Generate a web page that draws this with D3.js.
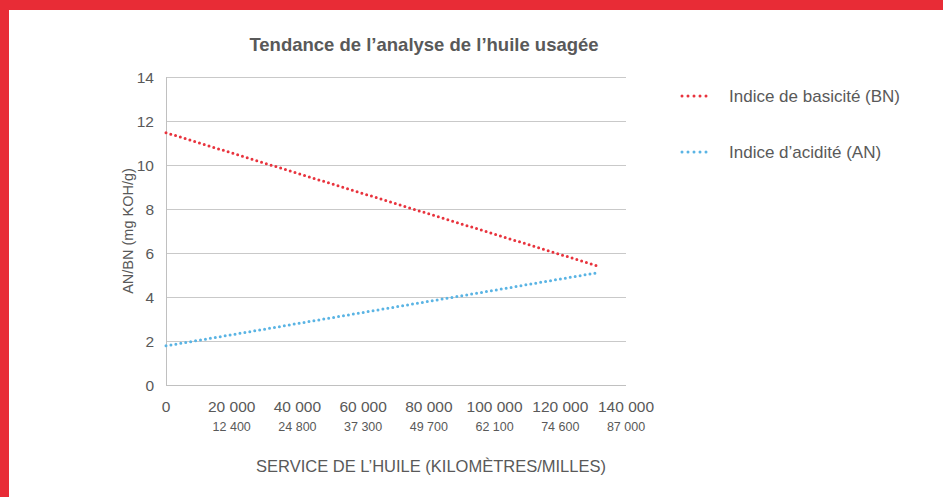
<!DOCTYPE html>
<html><head><meta charset="utf-8">
<script src="https://cdn.jsdelivr.net/npm/d3@7"></script>
<style>
html,body{margin:0;padding:0;background:#fff;}
svg{display:block;font-family:"Liberation Sans",Arial,sans-serif;}
</style></head>
<body><svg id="c" width="943" height="497"></svg>
<script>
const title = "Tendance de l’analyse de l’huile usagée";
const yTitle = "AN/BN (mg KOH/g)";
const xTitle = "SERVICE DE L’HUILE (KILOMÈTRES/MILLES)";
const kmTicks = [0, 20000, 40000, 60000, 80000, 100000, 120000, 140000];
const mileLabels = ["", "12 400", "24 800", "37 300", "49 700", "62 100", "74 600", "87 000"];
const yTicks = [0, 2, 4, 6, 8, 10, 12, 14];
const seriesNames = ["Indice de basicité (BN)", "Indice d’acidité (AN)"];
const seriesColors = ["#E8333D", "#5AB4E4"];
const kmPoints = [0, 132000];
const bnValues = [11.47, 5.38];
const anValues = [1.78, 5.12];

const svg = d3.select("#c");
svg.append("rect").attr("x",0).attr("y",0).attr("width",943).attr("height",497).attr("fill","#fff");
svg.append("rect").attr("x",0).attr("y",0).attr("width",943).attr("height",10).attr("fill","#E82C36");
svg.append("rect").attr("x",0).attr("y",0).attr("width",9).attr("height",497).attr("fill","#E82C36");

const x = d3.scaleLinear().domain([0,140000]).range([166,626]);
const y = d3.scaleLinear().domain([0,14]).range([385,77]);
const fmt = d => d===0 ? "0" : d3.format(",")(d).replace(/,/g," ");

// gridlines
svg.append("g").selectAll("line").data(yTicks.filter(d=>d>0)).join("line")
  .attr("x1",x(0)).attr("x2",x(140000)).attr("y1",d=>y(d)).attr("y2",d=>y(d))
  .attr("stroke","#c9c9c9").attr("stroke-width",1).attr("shape-rendering","crispEdges");
// axes lines
svg.append("line").attr("x1",x(0)).attr("x2",x(0)).attr("y1",y(14)).attr("y2",y(0))
  .attr("stroke","#c0c0c0").attr("shape-rendering","crispEdges");
svg.append("line").attr("x1",x(0)).attr("x2",x(140000)).attr("y1",y(0)).attr("y2",y(0))
  .attr("stroke","#c0c0c0").attr("shape-rendering","crispEdges");

// y tick labels
svg.append("g").selectAll("text").data(yTicks).join("text")
  .attr("x",154).attr("y",d=>y(d)+5.5).attr("text-anchor","end")
  .attr("font-size",15.5).attr("fill","#595959").text(d=>d);
// x tick labels
svg.append("g").selectAll("text").data(kmTicks).join("text")
  .attr("x",d=>x(d)).attr("y",412).attr("text-anchor","middle")
  .attr("font-size",15.5).attr("fill","#595959").text(fmt);
svg.append("g").selectAll("text").data(kmTicks).join("text")
  .attr("x",d=>x(d)).attr("y",431).attr("text-anchor","middle")
  .attr("font-size",12.5).attr("fill","#595959").text((d,i)=>mileLabels[i]);

// titles
svg.append("text").attr("x",424).attr("y",51).attr("text-anchor","middle")
  .attr("font-size",18.5).attr("font-weight","bold").attr("fill","#595959").text(title);
svg.append("text").attr("transform","translate(133,231) rotate(-90)").attr("text-anchor","middle")
  .attr("font-size",14.5).attr("fill","#595959").text(yTitle);
svg.append("text").attr("x",431).attr("y",472).attr("text-anchor","middle")
  .attr("font-size",16.5).attr("fill","#595959").text(xTitle);

// lines
const line = d3.line().x(d=>x(d[0])).y(d=>y(d[1]));
[bnValues, anValues].forEach((vals,i)=>{
  svg.append("path").datum(kmPoints.map((k,j)=>[k,vals[j]]))
    .attr("d",line).attr("fill","none").attr("stroke",seriesColors[i])
    .attr("stroke-width",3).attr("stroke-linecap","round").attr("stroke-dasharray","0 5");
});

// legend
const lg = svg.append("g");
seriesNames.forEach((n,i)=>{
  const yy = 96 + i*56;
  lg.append("line").attr("x1",682).attr("x2",707).attr("y1",yy).attr("y2",yy)
    .attr("stroke",seriesColors[i]).attr("stroke-width",3).attr("stroke-linecap","round").attr("stroke-dasharray","0 6");
  lg.append("text").attr("x",729).attr("y",yy+6).attr("font-size",17).attr("fill","#595959").text(n);
});
</script></body></html>
